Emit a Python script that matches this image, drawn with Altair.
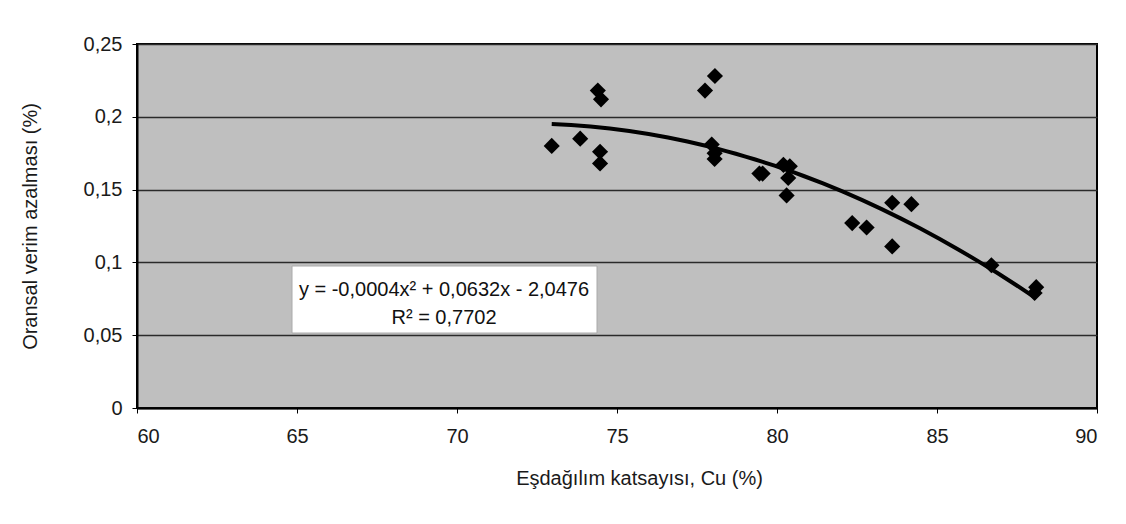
import altair as alt
import pandas as pd

# Data
cu = [72.96, 73.85, 74.40, 74.50, 74.47, 74.47, 77.75, 78.06, 77.96, 78.05,
      78.05, 79.45, 79.55, 80.20, 80.40, 80.35, 80.30, 82.35, 82.80, 83.60,
      84.20, 83.60, 86.70, 88.10, 88.05]
reduction = [0.180, 0.185, 0.218, 0.212, 0.176, 0.168, 0.218, 0.228, 0.181, 0.175,
             0.171, 0.161, 0.161, 0.167, 0.166, 0.158, 0.146, 0.127, 0.124, 0.141,
             0.140, 0.111, 0.098, 0.083, 0.079]

x_ticks = [60, 65, 70, 75, 80, 85, 90]
y_ticks = [0, 0.05, 0.10, 0.15, 0.20, 0.25]

eq_line1 = "y = -0,0004x² + 0,0632x - 2,0476"
eq_line2 = "R² = 0,7702"

df = pd.DataFrame({"cu": cu, "red": reduction})
one = pd.DataFrame({"k": [0]})

FONT = "Liberation Sans"
FS = 20

x_enc = alt.X(
    "cu:Q",
    scale=alt.Scale(domain=[60, 90], nice=False, zero=False),
    axis=alt.Axis(
        values=x_ticks, title="Eşdağılım katsayısı, Cu (%)", grid=False,
        domainColor="black", domainWidth=2, tickColor="black", tickSize=5,
        labelFontSize=FS, labelPadding=13, titleFontSize=FS, titleFontWeight="normal",
        titleX=502, titleY=70, titleBaseline="middle", labelColor="#1a1a1a", titleColor="#1a1a1a",
    ),
)
y_enc = alt.Y(
    "red:Q",
    scale=alt.Scale(domain=[0, 0.25], nice=False),
    axis=alt.Axis(
        values=y_ticks, title="Oransal verim azalması (%)",
        labelExpr="replace(format(datum.value, '~g'), '.', ',')",
        grid=True, gridColor="#2a2a2a", gridWidth=1.3,
        domainColor="black", domainWidth=2, tickColor="black", tickSize=5,
        labelFontSize=FS, labelPadding=10, titleFontSize=FS, titleFontWeight="normal",
        titleX=-107, titleY=182, titleBaseline="middle", labelColor="#1a1a1a", titleColor="#1a1a1a",
    ),
)

points = alt.Chart(df).mark_point(
    shape="diamond", filled=True, color="black", size=260, opacity=1
).encode(x=x_enc, y=y_enc)

trend = alt.Chart(df).transform_regression(
    "cu", "red", method="poly", order=2
).mark_line(color="black", strokeWidth=4).encode(x="cu:Q", y="red:Q")

box = alt.Chart(one).mark_rect(color="white", stroke="#aaaaaa", strokeWidth=1).encode(
    x=alt.value(155), x2=alt.value(460), y=alt.value(222), y2=alt.value(289)
)

txt1 = alt.Chart(one).mark_text(
    text=eq_line1, font=FONT, fontSize=FS, color="#111", align="center", baseline="middle"
).encode(x=alt.value(307), y=alt.value(246))
txt2 = alt.Chart(one).mark_text(
    text=eq_line2, font=FONT, fontSize=FS, color="#111", align="center", baseline="middle"
).encode(x=alt.value(307), y=alt.value(274))

chart = alt.layer(box, trend, points, txt1, txt2).properties(
    width=960, height=364,
    autosize=alt.AutoSizeParams(type="none"),
    padding={"left": 129, "top": 36, "right": 21, "bottom": 108},
    background="white",
).configure(font=FONT).configure_view(
    fill="#bfbfbf", stroke="black", strokeWidth=2
)

chart.save("out.html", embed_options={"renderer": "svg", "actions": False})
